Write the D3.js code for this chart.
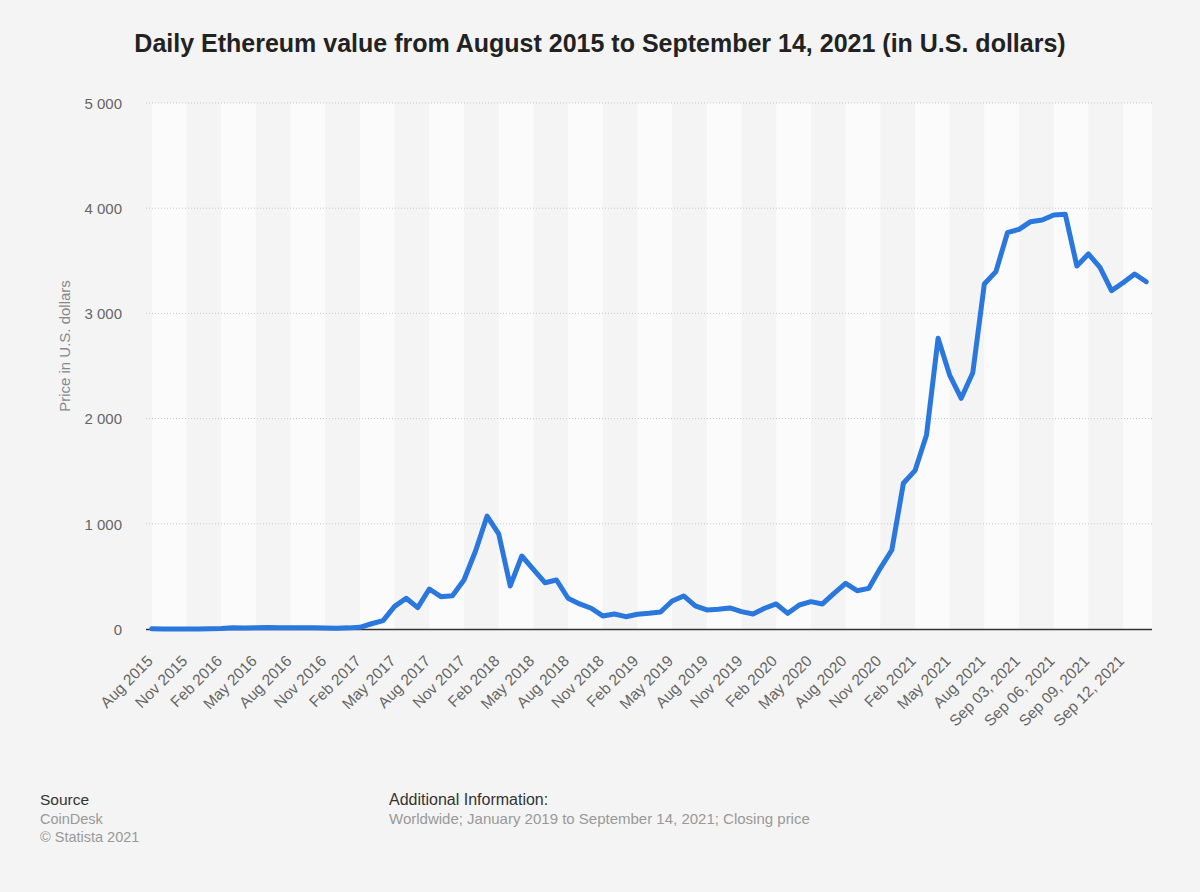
<!DOCTYPE html>
<html>
<head>
<meta charset="utf-8">
<script src="https://cdn.jsdelivr.net/npm/d3@7"></script>
<style>
  html, body { margin: 0; padding: 0; background: #f4f4f4; }
  svg { display: block; }
  text { font-family: "Liberation Sans", Arial, sans-serif; }
</style>
</head>
<body>
<svg id="chart" width="1200" height="892"></svg>
<script>
// ---- data ----
const categories = [
  "Aug 2015","Sep 2015","Oct 2015","Nov 2015","Dec 2015",
  "Jan 2016","Feb 2016","Mar 2016","Apr 2016","May 2016","Jun 2016","Jul 2016","Aug 2016","Sep 2016","Oct 2016","Nov 2016","Dec 2016",
  "Jan 2017","Feb 2017","Mar 2017","Apr 2017","May 2017","Jun 2017","Jul 2017","Aug 2017","Sep 2017","Oct 2017","Nov 2017","Dec 2017",
  "Jan 2018","Feb 2018","Mar 2018","Apr 2018","May 2018","Jun 2018","Jul 2018","Aug 2018","Sep 2018","Oct 2018","Nov 2018","Dec 2018",
  "Jan 2019","Feb 2019","Mar 2019","Apr 2019","May 2019","Jun 2019","Jul 2019","Aug 2019","Sep 2019","Oct 2019","Nov 2019","Dec 2019",
  "Jan 2020","Feb 2020","Mar 2020","Apr 2020","May 2020","Jun 2020","Jul 2020","Aug 2020","Sep 2020","Oct 2020","Nov 2020","Dec 2020",
  "Jan 2021","Feb 2021","Mar 2021","Apr 2021","May 2021","Jun 2021","Jul 2021","Aug 2021",
  "Sep 01, 2021","Sep 02, 2021","Sep 03, 2021","Sep 04, 2021","Sep 05, 2021","Sep 06, 2021","Sep 07, 2021",
  "Sep 08, 2021","Sep 09, 2021","Sep 10, 2021","Sep 11, 2021","Sep 12, 2021","Sep 13, 2021","Sep 14, 2021"
];
const prices = [
  1.2, 0.9, 0.9, 0.9, 0.9,
  2.2, 5.5, 11.5, 8.8, 12.5, 14, 12, 11.5, 13, 11, 9, 8,
  10.7, 16, 50, 79, 215, 292, 203, 380, 307, 317, 466, 741,
  1074, 905, 409, 694, 567, 440, 466, 292, 238, 197, 124, 143,
  117, 140, 149, 161, 266, 314, 219, 181, 187, 200, 165, 143,
  197, 238, 149, 228, 260, 238, 339, 434, 364, 386, 577, 751,
  1385, 1505, 1845, 2763, 2414, 2193, 2436, 3279,
  3397, 3767, 3799, 3872, 3888, 3935, 3942,
  3451, 3565, 3438, 3216, 3292, 3375, 3301
];
const yTicks = [0, 1000, 2000, 3000, 4000, 5000];
const tickEvery = 3;

const title = "Daily Ethereum value from August 2015 to September 14, 2021 (in U.S. dollars)";
const yTitle = "Price in U.S. dollars";

// ---- layout ----
const svg = d3.select("#chart");
const plot = { left: 146, right: 1152, top: 103, bottom: 629 };

const xBand = d3.scaleBand().domain(categories).range([plot.left, plot.right]).padding(0);
const xc = d => xBand(d) + xBand.bandwidth() / 2;
const y = d3.scaleLinear().domain([0, 5000]).range([plot.bottom, plot.top]);

svg.append("rect").attr("width", 1200).attr("height", 892).attr("fill", "#f4f4f4");

// alternating bands between ticks
const tickCats = categories.filter((d, i) => i % tickEvery === 0);
tickCats.forEach((c, k) => {
  if (k % 2 !== 0) return;
  const x0 = xc(c);
  const next = tickCats[k + 1];
  const x1 = next ? xc(next) : plot.right;
  svg.append("rect")
    .attr("x", x0).attr("y", plot.top)
    .attr("width", Math.min(x1, plot.right) - x0)
    .attr("height", plot.bottom - plot.top)
    .attr("fill", "#fbfbfb");
});

// grid lines
svg.append("g").selectAll("line").data(yTicks.filter(d => d > 0)).join("line")
  .attr("x1", plot.left).attr("x2", plot.right)
  .attr("y1", d => y(d)).attr("y2", d => y(d))
  .attr("stroke", "#c8c8c8").attr("stroke-width", 1).attr("stroke-dasharray", "1,2");

// y axis labels
const yAxis = d3.axisLeft(y).tickValues(yTicks).tickSize(0).tickPadding(0)
  .tickFormat(d => d3.format(",")(d).replace(/,/g, " "));
const yg = svg.append("g").attr("transform", `translate(122,0)`).call(yAxis);
yg.select(".domain").remove();
yg.selectAll("text").attr("fill", "#666").attr("font-size", 15).attr("dy", "0.35em")
  .style("font-family", "'Liberation Sans', Arial, sans-serif");

// y axis title
svg.append("text")
  .attr("transform", `translate(69.5,346) rotate(-90)`)
  .attr("text-anchor", "middle").attr("fill", "#888").attr("font-size", 15)
  .text(yTitle);

// x axis baseline
svg.append("line")
  .attr("x1", plot.left).attr("x2", plot.right)
  .attr("y1", y(0) + 0.5).attr("y2", y(0) + 0.5)
  .attr("stroke", "#333").attr("stroke-width", 1.5);

// x labels
svg.append("g").selectAll("text").data(tickCats).join("text")
  .attr("transform", d => `translate(${xc(d) + 2},${plot.bottom + 33}) rotate(-45)`)
  .attr("text-anchor", "end").attr("fill", "#666").attr("font-size", 15.5)
  .text(d => d);

// line
const line = d3.line().x((d, i) => xc(categories[i])).y(d => y(d)).curve(d3.curveLinear);
svg.append("path").datum(prices)
  .attr("d", line)
  .attr("fill", "none").attr("stroke", "#2a77dd").attr("stroke-width", 5)
  .attr("stroke-linejoin", "round").attr("stroke-linecap", "round");

// title
svg.append("text")
  .attr("x", 600).attr("y", 52).attr("text-anchor", "middle")
  .attr("font-size", 25).attr("font-weight", "bold").attr("fill", "#222")
  .text(title);

// footer
const foot = svg.append("g");
foot.append("text").attr("x", 40).attr("y", 805).attr("font-size", 15.5).attr("fill", "#333").text("Source");
foot.append("text").attr("x", 40).attr("y", 823.5).attr("font-size", 14.5).attr("fill", "#999").text("CoinDesk");
foot.append("text").attr("x", 40).attr("y", 842).attr("font-size", 14.5).attr("fill", "#999").text("© Statista 2021");
foot.append("text").attr("x", 389).attr("y", 805).attr("font-size", 16).attr("fill", "#333").text("Additional Information:");
foot.append("text").attr("x", 389).attr("y", 823.5).attr("font-size", 15).attr("fill", "#999")
  .text("Worldwide; January 2019 to September 14, 2021; Closing price");
</script>
</body>
</html>
